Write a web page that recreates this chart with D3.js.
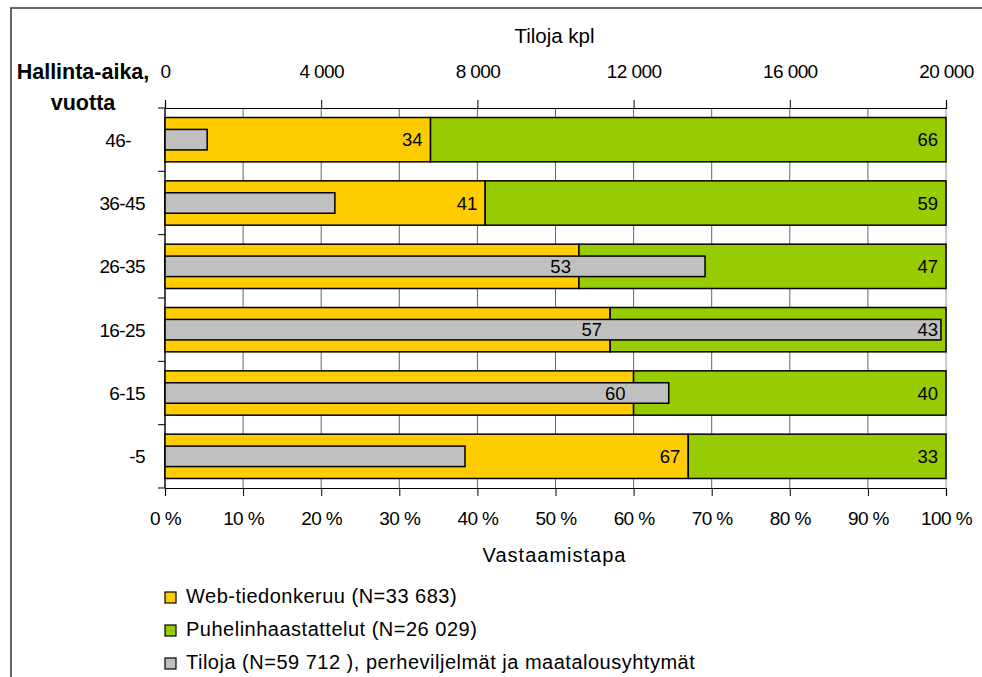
<!DOCTYPE html>
<html>
<head>
<meta charset="utf-8">
<script src="https://cdn.jsdelivr.net/npm/d3@7/dist/d3.min.js"></script>
<style>
  html, body { margin: 0; padding: 0; background: #fff; }
  svg text { font-family: "Liberation Sans", Arial, sans-serif; fill: #000; }
</style>
</head>
<body>
<svg id="chart" width="982" height="677"></svg>
<script>
// Hallinta-aika (years of holding) categories, top to bottom
const categories = ["46-", "36-45", "26-35", "16-25", "6-15", "-5"];
// Share of answers by web collection, % (phone share is the remainder)
const webShare = [34, 41, 53, 57, 60, 67];
const phoneShare = [66, 59, 47, 43, 40, 33];
// Number of farms per category (kpl)
const farms = [1080, 4350, 13830, 19870, 12900, 7682];
// Axis ticks
const pctTicks = [0, 10, 20, 30, 40, 50, 60, 70, 80, 90, 100];
const farmTicks = [0, 4000, 8000, 12000, 16000, 20000];
// Legend entries
const legendLabels = [
  "Web-tiedonkeruu (N=33 683)",
  "Puhelinhaastattelut (N=26 029)",
  "Tiloja (N=59 712 ), perheviljelmät ja maatalousyhtymät"
];
const colors = { web: "#FFCC00", phone: "#99CC00", farms: "#C0C0C0" };

const svg = d3.select("#chart");

// outer frame
svg.append("path")
  .attr("d", "M11,677 L11,8 L982,8")
  .attr("fill", "none").attr("stroke", "#333").attr("stroke-width", 1.5);

const plotLeft = 165, plotRight = 946, plotTop = 108, plotBottom = 488;

const x = d3.scaleLinear().domain([0, 100]).range([plotLeft, plotRight]);
const x2 = d3.scaleLinear().domain([0, 20000]).range([plotLeft, plotRight]);
const y = d3.scaleBand().domain(categories).range([plotTop, plotBottom])
  .paddingInner(0.3).paddingOuter(0.15);
const step = y.step();

const fmtThousands = v => d3.format(",")(v).replace(/,/g, " ");

// vertical gridlines every 10 %
svg.append("g").selectAll("line").data(pctTicks).join("line")
  .attr("x1", d => x(d)).attr("x2", d => x(d))
  .attr("y1", plotTop).attr("y2", plotBottom)
  .attr("stroke", d => d === 100 ? "#999" : "#666").attr("stroke-width", 1);

// bottom axis (percent)
const gBottom = svg.append("g").attr("transform", `translate(0,${plotBottom})`)
  .call(d3.axisBottom(x).tickValues(pctTicks).tickSize(8).tickPadding(16)
    .tickFormat(d => d + " %"));
gBottom.select(".domain").attr("stroke", "#000").attr("stroke-width", 1.2);
gBottom.selectAll(".tick line").attr("stroke", "#000");
gBottom.selectAll(".tick text").attr("font-size", 19).attr("letter-spacing", -0.6)
  .attr("font-family", "Liberation Sans, Arial, sans-serif");

// top axis (farms)
const gTop = svg.append("g").attr("transform", `translate(0,${plotTop})`)
  .call(d3.axisTop(x2).tickValues(farmTicks).tickSize(8).tickPadding(22)
    .tickFormat(fmtThousands));
gTop.select(".domain").attr("stroke", "#000").attr("stroke-width", 1.2);
gTop.selectAll(".tick line").attr("stroke", "#000");
gTop.selectAll(".tick text").attr("font-size", 19).attr("letter-spacing", -0.6)
  .attr("font-family", "Liberation Sans, Arial, sans-serif");

// left axis line and category boundary ticks
svg.append("line").attr("x1", plotLeft).attr("x2", plotLeft).attr("y1", plotTop).attr("y2", plotBottom)
  .attr("stroke", "#000").attr("stroke-width", 1.2);
svg.append("g").selectAll("line").data(d3.range(categories.length + 1)).join("line")
  .attr("x1", plotLeft - 7).attr("x2", plotLeft)
  .attr("y1", i => plotTop + i * step).attr("y2", i => plotTop + i * step)
  .attr("stroke", "#000");

// category labels
svg.append("g").selectAll("text").data(categories).join("text")
  .attr("x", 145)
  .attr("y", d => y(d) + y.bandwidth() / 2 + 7)
  .attr("text-anchor", "end")
  .attr("font-size", 19).attr("letter-spacing", -0.6)
  .style("white-space", "pre")
  .text(d => d === "46-" ? d + "   " : d);

// stacked web / phone bars
const rows = categories.map((c, i) => ({ c, web: webShare[i], phone: phoneShare[i], farms: farms[i] }));
const gBars = svg.append("g");
gBars.selectAll("rect.web").data(rows).join("rect").attr("class", "web")
  .attr("x", x(0)).attr("y", d => y(d.c))
  .attr("width", d => x(d.web) - x(0)).attr("height", y.bandwidth())
  .attr("fill", colors.web).attr("stroke", "#000").attr("stroke-width", 1.5);
gBars.selectAll("rect.phone").data(rows).join("rect").attr("class", "phone")
  .attr("x", d => x(d.web)).attr("y", d => y(d.c))
  .attr("width", d => x(d.web + d.phone) - x(d.web)).attr("height", y.bandwidth())
  .attr("fill", colors.phone).attr("stroke", "#000").attr("stroke-width", 1.5);

// farm count bars on the top axis scale
const farmH = 20.5;
gBars.selectAll("rect.farms").data(rows).join("rect").attr("class", "farms")
  .attr("x", x2(0)).attr("y", d => y(d.c) + y.bandwidth() / 2 - farmH / 2)
  .attr("width", d => x2(d.farms) - x2(0)).attr("height", farmH)
  .attr("fill", colors.farms).attr("stroke", "#000").attr("stroke-width", 1.5);

// value labels at the end of each segment
const gLab = svg.append("g").attr("font-size", 18.5).attr("text-anchor", "end");
gLab.selectAll("text.webv").data(rows).join("text").attr("class", "webv")
  .attr("x", d => x(d.web) - 8).attr("y", d => y(d.c) + y.bandwidth() / 2 + 6.5)
  .text(d => d.web);
gLab.selectAll("text.phonev").data(rows).join("text").attr("class", "phonev")
  .attr("x", d => x(d.web + d.phone) - 8).attr("y", d => y(d.c) + y.bandwidth() / 2 + 6.5)
  .text(d => d.phone);

// axis titles
svg.append("text").attr("x", (plotLeft + plotRight) / 2 - 1).attr("y", 43)
  .attr("text-anchor", "middle").attr("font-size", 20.5).text("Tiloja kpl");
svg.append("text").attr("x", (plotLeft + plotRight) / 2 - 1).attr("y", 562)
  .attr("text-anchor", "middle").attr("font-size", 20).attr("letter-spacing", 1)
  .text("Vastaamistapa");
const yTitle = svg.append("text").attr("text-anchor", "middle")
  .attr("font-size", 21.5).attr("font-weight", "bold");
yTitle.append("tspan").attr("x", 83).attr("y", 79).text("Hallinta-aika,");
yTitle.append("tspan").attr("x", 83).attr("y", 110).text("vuotta");

// legend
const legendColors = [colors.web, colors.phone, colors.farms];
const gLeg = svg.append("g");
legendLabels.forEach((t, i) => {
  const base = 603 + i * 33;
  gLeg.append("rect").attr("x", 165).attr("y", base - 11).attr("width", 11).attr("height", 11)
    .attr("fill", legendColors[i]).attr("stroke", "#000").attr("stroke-width", 1.2);
  gLeg.append("text").attr("x", 186).attr("y", base).attr("font-size", 20)
    .attr("letter-spacing", 0.5).text(t);
});
</script>
</body>
</html>
